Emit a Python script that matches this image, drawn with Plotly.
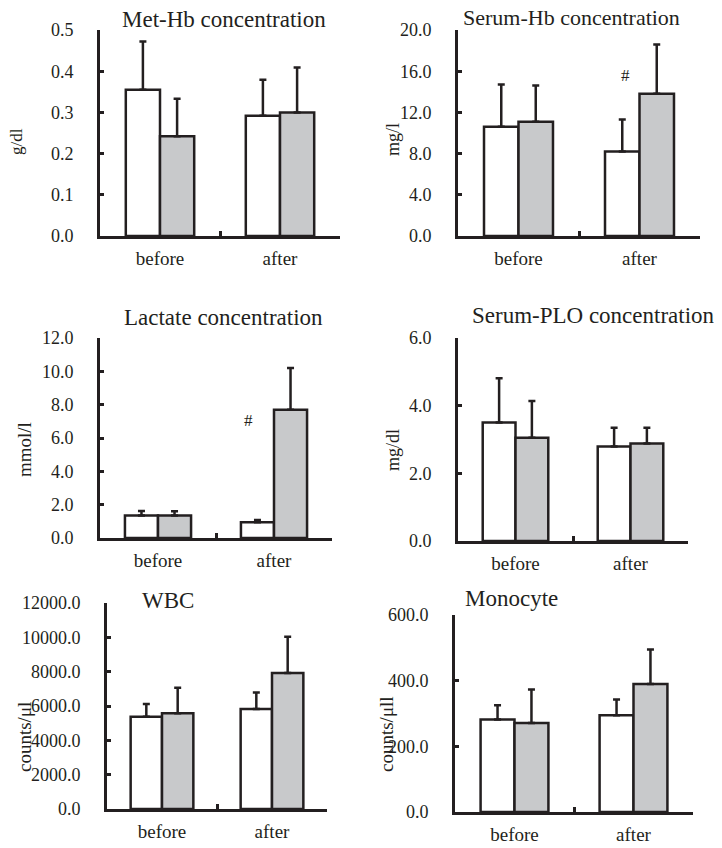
import plotly.graph_objects as go

# page body adds an 8px margin; lay out in reference pixels and compensate
OFF = 8
W, H = 722 - OFF, 848 - OFF

categories = ["before", "after"]

methb_white = [0.355, 0.292]
methb_white_err = [0.117, 0.087]
methb_gray = [0.242, 0.300]
methb_gray_err = [0.091, 0.109]

serumhb_white = [10.6, 8.2]
serumhb_white_err = [4.1, 3.1]
serumhb_gray = [11.1, 13.8]
serumhb_gray_err = [3.5, 4.8]

lactate_white = [1.35, 0.95]
lactate_white_err = [0.27, 0.13]
lactate_gray = [1.35, 7.7]
lactate_gray_err = [0.25, 2.5]

plo_white = [3.5, 2.79]
plo_white_err = [1.31, 0.56]
plo_gray = [3.05, 2.88]
plo_gray_err = [1.09, 0.47]

wbc_white = [5370, 5830]
wbc_white_err = [740, 950]
wbc_gray = [5580, 7920]
wbc_gray_err = [1490, 2120]

mono_white = [282, 295]
mono_white_err = [43, 48]
mono_gray = [271, 390]
mono_gray_err = [102, 105]

titles = ["Met-Hb concentration", "Serum-Hb concentration", "Lactate concentration",
          "Serum-PLO concentration", "WBC", "Monocyte"]
ytitles = ["g/dl", "mg/l", "mmol/l", "mg/dl", "counts/μl", "counts/μll"]
ymax = [0.5, 20, 12, 6, 12000, 600]
ydtick = [0.1, 4, 2, 2, 2000, 200]

INK = "#231f20"
GRAY = "#c8c9cb"
FONT = "Liberation Serif"


def px(x):
    return (x - OFF) / W


def py(y):
    return 1 - (y - OFF) / H


# panel pixel boxes in reference coordinates: (left, right, top, bottom)
boxes = [(100, 340, 30, 236), (458, 700, 30, 236),
         (100, 332, 338, 538), (458, 688, 338, 541),
         (107, 327, 603, 809), (455, 693, 615, 812)]
title_pos = [(224, 20, 23), (571, 18, 22), (224, 317, 23), (593, 315, 23), (168, 600, 23), (511, 598, 23)]
ytitle_pos = [(16, 142, 17), (393, 140, 18), (24, 450, 19), (393, 450, 18), (24, 737, 19), (386, 734, 19)]

panels = [
    (methb_white, methb_white_err, methb_gray, methb_gray_err),
    (serumhb_white, serumhb_white_err, serumhb_gray, serumhb_gray_err),
    (lactate_white, lactate_white_err, lactate_gray, lactate_gray_err),
    (plo_white, plo_white_err, plo_gray, plo_gray_err),
    (wbc_white, wbc_white_err, wbc_gray, wbc_gray_err),
    (mono_white, mono_white_err, mono_gray, mono_gray_err),
]

fig = go.Figure()
annotations = []

for i, (wv, we, gv, ge) in enumerate(panels):
    n = "" if i == 0 else str(i + 1)
    xa, ya = "x" + n, "y" + n
    for vals, errs, color in ((wv, we, "#ffffff"), (gv, ge, GRAY)):
        fig.add_trace(go.Bar(
            x=categories, y=vals, xaxis=xa, yaxis=ya,
            marker=dict(color=color, line=dict(color=INK, width=2.5)),
            error_y=dict(type="data", array=errs, arrayminus=[0] * len(errs), symmetric=False,
                         color=INK, thickness=2.5, width=3.5),
            showlegend=False,
        ))
    l, r, t, b = boxes[i]
    fig.layout["xaxis" + n] = dict(
        domain=[px(l), px(r)], anchor=ya, type="category", range=[-0.5, 1.5],
        automargin=False,
        showline=True, linewidth=3, linecolor=INK, showgrid=False, zeroline=False,
        ticks="inside", tickson="boundaries", ticklen=5, tickwidth=2.5, tickcolor=INK,
        tickfont=dict(family=FONT, size=19, color=INK), ticklabelstandoff=3,
    )
    fig.layout["yaxis" + n] = dict(
        domain=[py(b), py(t)], anchor=xa, range=[0, ymax[i]], dtick=ydtick[i],
        automargin=False,
        tickformat=".1f", showline=True, linewidth=3, linecolor=INK, showgrid=False,
        zeroline=False, ticks="inside", ticklen=4, tickwidth=2.5, tickcolor=INK,
        tickfont=dict(family=FONT, size=18, color=INK), ticklabelstandoff=20,
    )
    tx, ty, ts = title_pos[i]
    annotations.append(dict(text=titles[i], x=px(tx), y=py(ty), xref="paper", yref="paper",
                            xanchor="center", yanchor="middle", showarrow=False,
                            font=dict(family=FONT, size=ts, color=INK)))
    yx, yy, ys = ytitle_pos[i]
    annotations.append(dict(text=ytitles[i], x=px(yx), y=py(yy), xref="paper", yref="paper",
                            xanchor="center", yanchor="middle", textangle=-90, showarrow=False,
                            font=dict(family=FONT, size=ys, color=INK)))

# significance markers
annotations.append(dict(text="#", x=0.888, y=15.6, xref="x2", yref="y2", showarrow=False,
                        font=dict(family=FONT, size=17, color=INK)))
annotations.append(dict(text="#", x=0.776, y=7.07, xref="x3", yref="y3", showarrow=False,
                        font=dict(family=FONT, size=17, color=INK)))

fig.update_layout(
    template="none",
    width=W, height=H, margin=dict(l=0, r=0, t=0, b=0, pad=0),
    paper_bgcolor="white", plot_bgcolor="white",
    barmode="group", bargap=0.43, bargroupgap=0,
    annotations=annotations,
)

fig.write_html("out.html")
